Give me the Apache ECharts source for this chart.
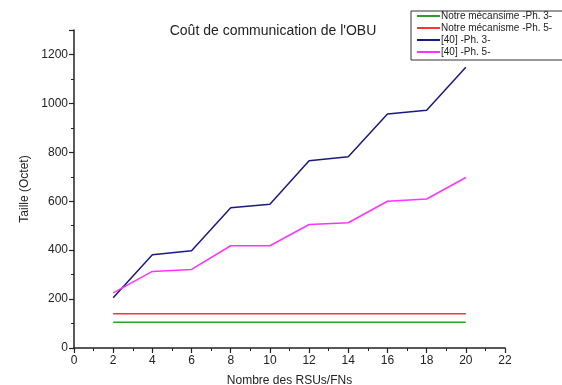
<!DOCTYPE html>
<html><head><meta charset="utf-8">
<script src="https://cdn.jsdelivr.net/npm/echarts@6/dist/echarts.min.js"></script>
<style>html,body{margin:0;padding:0;background:#fff}#c{width:562px;height:385px}</style>
</head><body><div id="c"></div>
<script>
const xValues = [2, 4, 6, 8, 10, 12, 14, 16, 18, 20];
const notrePh3 = [105, 105, 105, 105, 105, 105, 105, 105, 105, 105];
const notrePh5 = [140, 140, 140, 140, 140, 140, 140, 140, 140, 140];
const ref40Ph3 = [205, 381, 398, 573, 588, 765, 782, 957, 972, 1148];
const ref40Ph5 = [225, 313, 321, 418, 418, 505, 512, 600, 609, 697];
const seriesNames = ['Notre mécansime -Ph. 3-', 'Notre mécanisme -Ph. 5-', '[40] -Ph. 3-', '[40] -Ph. 5-'];
const seriesColors = ['#2ca02c', '#ff3333', '#1a1a80', '#ff33ff'];
const seriesData = [notrePh3, notrePh5, ref40Ph3, ref40Ph5];

const font = 'Liberation Sans, Arial, sans-serif';
const chart = echarts.init(document.getElementById('c'), null, {renderer: 'canvas'});
chart.setOption({
  animation: false,
  backgroundColor: '#fff',
  title: {
    text: "Coût de communication de l'OBU",
    left: 268, top: 19, textAlign: 'center',
    textStyle: {fontFamily: font, fontSize: 14, fontWeight: 'normal', color: '#222'}
  },
  legend: {
    orient: 'vertical', left: 411, top: 11,
    padding: [0, 60, 3, 6], itemGap: 2,
    itemWidth: 23, itemHeight: 2, icon: 'rect',
    backgroundColor: '#fff', borderColor: '#333', borderWidth: 1,
    textStyle: {fontFamily: font, fontSize: 10, color: '#222', padding: [0, 0, 0, -4]},
    data: seriesNames
  },
  grid: {left: 74, right: 57, top: 30, bottom: 37, containLabel: false, outerBoundsMode: 'none'},
  xAxis: {
    type: 'value', min: 0, max: 22, interval: 2,
    name: 'Nombre des RSUs/FNs', nameLocation: 'middle', nameGap: 27,
    nameTextStyle: {fontFamily: font, fontSize: 12, color: '#222'},
    axisLine: {show: true, onZero: false, lineStyle: {color: '#222', width: 1.5}},
    axisTick: {show: true, inside: false, length: 5, lineStyle: {color: '#222', width: 1.2}},
    minorTick: {show: true, splitNumber: 2, length: 3, lineStyle: {color: '#222', width: 1}},
    axisLabel: {fontFamily: font, fontSize: 12, color: '#222', margin: 7},
    splitLine: {show: false}
  },
  yAxis: {
    type: 'value', min: 0, max: 1300, interval: 200,
    name: 'Taille (Octet)', nameLocation: 'middle', nameGap: 42, nameRotate: 90,
    nameTextStyle: {fontFamily: font, fontSize: 12, color: '#222'},
    axisLine: {show: true, lineStyle: {color: '#222', width: 1.5}},
    axisTick: {show: true, inside: false, length: 5, lineStyle: {color: '#222', width: 1.2}},
    minorTick: {show: true, splitNumber: 2, length: 3, lineStyle: {color: '#222', width: 1}},
    axisLabel: {fontFamily: font, fontSize: 12, color: '#222', margin: 6,
      showMaxLabel: false, formatter: v => String(v)},
    splitLine: {show: false}
  },
  series: seriesNames.map((n, i) => ({
    name: n, type: 'line', showSymbol: false, symbol: 'none',
    data: xValues.map((x, j) => [x, seriesData[i][j]]),
    lineStyle: {color: seriesColors[i], width: 1.5},
    itemStyle: {color: seriesColors[i]},
    z: 2 + i
  }))
});
</script></body></html>
